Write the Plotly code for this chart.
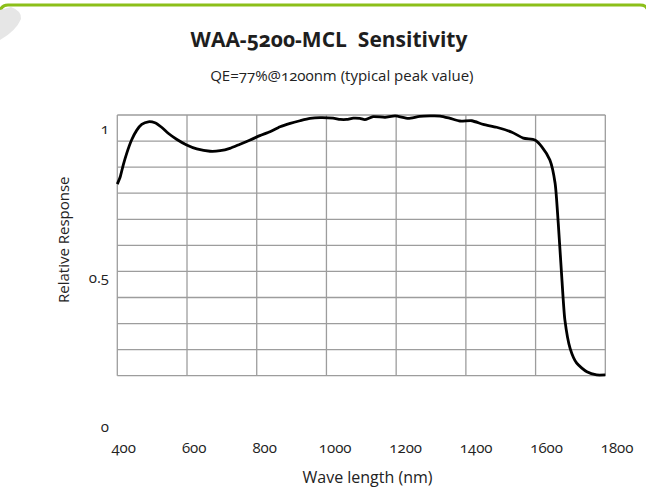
import plotly.graph_objects as go

# ---------------- data ----------------
wavelength_nm = [400, 408, 417, 427, 441, 456, 470, 489, 508, 527, 546, 570, 599, 628, 666,
                 695, 723, 752, 781, 809, 838, 867, 896, 924, 953, 982, 1019, 1040, 1058,
                 1077, 1096, 1110, 1134, 1168, 1197, 1235, 1268, 1326, 1355, 1383, 1417,
                 1450, 1488, 1532, 1565, 1598, 1618, 1641, 1656, 1665, 1675, 1684, 1699,
                 1718, 1747, 1775, 1800]
relative_response = [0.735, 0.761, 0.808, 0.853, 0.904, 0.942, 0.964, 0.974, 0.970, 0.953,
                     0.930, 0.907, 0.885, 0.870, 0.861, 0.863, 0.872, 0.888, 0.904, 0.921,
                     0.936, 0.955, 0.968, 0.978, 0.987, 0.990, 0.988, 0.983, 0.983, 0.988,
                     0.987, 0.982, 0.994, 0.991, 0.997, 0.987, 0.995, 0.996, 0.987, 0.977,
                     0.978, 0.964, 0.953, 0.934, 0.911, 0.904, 0.878, 0.827, 0.738, 0.585,
                     0.380, 0.214, 0.105, 0.048, 0.015, 0.003, 0.003]

x_tick_values = [400, 600, 800, 1000, 1200, 1400, 1600, 1800]
x_tick_labels = ["400", "600", "800", "1000", "1200", "1400", "1600", "1800"]
y_tick_values = [0, 0.5, 1]
y_tick_labels = ["0", "0.5", "1"]
grid_y_values = [0.0, 0.1, 0.2, 0.3, 0.4, 0.5, 0.6, 0.7, 0.8, 0.9, 1.0]

title_text = "<b>WAA-5200-MCL  Sensitivity</b>"
subtitle_text = "QE=77%@1200nm (typical peak value)"
x_title = "Wave length (nm)"
y_title = "Relative Response"

# ---------------- layout geometry ----------------
W, H = 646, 500
ML, MR, MT, MB = 110, 21, 108, 68
PW, PH = W - ML - MR, H - MT - MB

def px(x):
    return (x - ML) / PW

def py(y):
    return (H - MB - y) / PH

FONT = "Open Sans, Lato, Noto Sans, sans-serif"
TXT = "#222222"

fig = go.Figure()

fig.add_trace(go.Scatter(
    x=wavelength_nm, y=relative_response, mode="lines",
    line=dict(color="#000000", width=2.8, shape="spline", smoothing=0.6),
    xaxis="x", yaxis="y", hoverinfo="skip", showlegend=False))

# dummy trace to carry the label axes
fig.add_trace(go.Scatter(x=[], y=[], xaxis="x2", yaxis="y2", showlegend=False,
                         hoverinfo="skip"))

shapes = []
gx0, gx1 = x_tick_values[0], x_tick_values[-1]
gy0, gy1 = grid_y_values[0], grid_y_values[-1]
for xv in x_tick_values:
    shapes.append(dict(type="line", xref="x", yref="y", x0=xv, x1=xv, y0=gy0, y1=gy1,
                       line=dict(color="#9d9d9d", width=1.3), layer="below"))
for yv in grid_y_values:
    shapes.append(dict(type="line", xref="x", yref="y", x0=gx0, x1=gx1, y0=yv, y1=yv,
                       line=dict(color="#9d9d9d", width=1.3), layer="below"))

# decorative green frame top edge
frame_path = (f"M {px(0)},{py(14)} Q {px(0)},{py(5)} {px(8)},{py(5)} "
              f"L {px(640)},{py(5)} Q {px(646)},{py(5)} {px(647)},{py(9)}")
shapes.append(dict(type="path", xref="paper", yref="paper", path=frame_path,
                   line=dict(color="#8cbf1a", width=3)))
# light grey page-curl decoration
curl_path = (f"M {px(0)},{py(10)} L {px(11)},{py(7)} Q {px(22)},{py(11)} {px(21)},{py(19)} "
             f"Q {px(16)},{py(31)} {px(0)},{py(40)} Z")
shapes.append(dict(type="path", xref="paper", yref="paper", path=curl_path,
                   fillcolor="#e6e6e6", line=dict(width=0)))

annotations = [
    dict(text=subtitle_text, xref="paper", yref="paper", x=px(342), y=py(75),
         showarrow=False, font=dict(family=FONT, size=15, color=TXT),
         xanchor="center", yanchor="middle"),
    dict(text=y_title, xref="paper", yref="paper", x=px(63), y=py(240), textangle=-90,
         showarrow=False, font=dict(family=FONT, size=15, color=TXT),
         xanchor="center", yanchor="middle"),
]

fig.update_layout(
    width=W, height=H,
    margin=dict(l=ML, r=MR, t=MT, b=MB, pad=0),
    paper_bgcolor="white", plot_bgcolor="white",
    font=dict(family=FONT, color=TXT),
    title=dict(text=title_text, x=px(329), xref="paper", xanchor="center",
               y=1 - 40 / H, yref="container", yanchor="middle",
               font=dict(family=FONT, size=21, color="#1e1e1e")),
    xaxis=dict(range=[379.06, 1856.5], visible=False, fixedrange=True),
    yaxis=dict(range=[-0.21596, 1.02685], visible=False, fixedrange=True),
    xaxis2=dict(overlaying="x", anchor="y2", side="bottom", range=[361.13, 1822.4],
                tickvals=x_tick_values, ticktext=x_tick_labels, showgrid=False,
                zeroline=False, showline=False, ticks="outside", ticklen=2,
                tickcolor="rgba(0,0,0,0)", tickfont=dict(family=FONT, size=15, color=TXT),
                title=dict(text=x_title, font=dict(family=FONT, size=16, color=TXT),
                           standoff=15)),
    yaxis2=dict(overlaying="y", anchor="x2", side="left", range=[-0.01776, 1.06803],
                tickvals=y_tick_values, ticktext=y_tick_labels, showgrid=False,
                zeroline=False, showline=False, ticks="",
                tickfont=dict(family=FONT, size=15, color=TXT)),
    shapes=shapes, annotations=annotations, showlegend=False,
)

post = ("document.body.style.margin='0';"
        "var s=document.createElement('style');"
        "s.textContent='text{font-feature-settings:\"onum\" 1;}';"
        "document.head.appendChild(s);")
fig.write_html("out.html", post_script=post, config={"displayModeBar": False})
